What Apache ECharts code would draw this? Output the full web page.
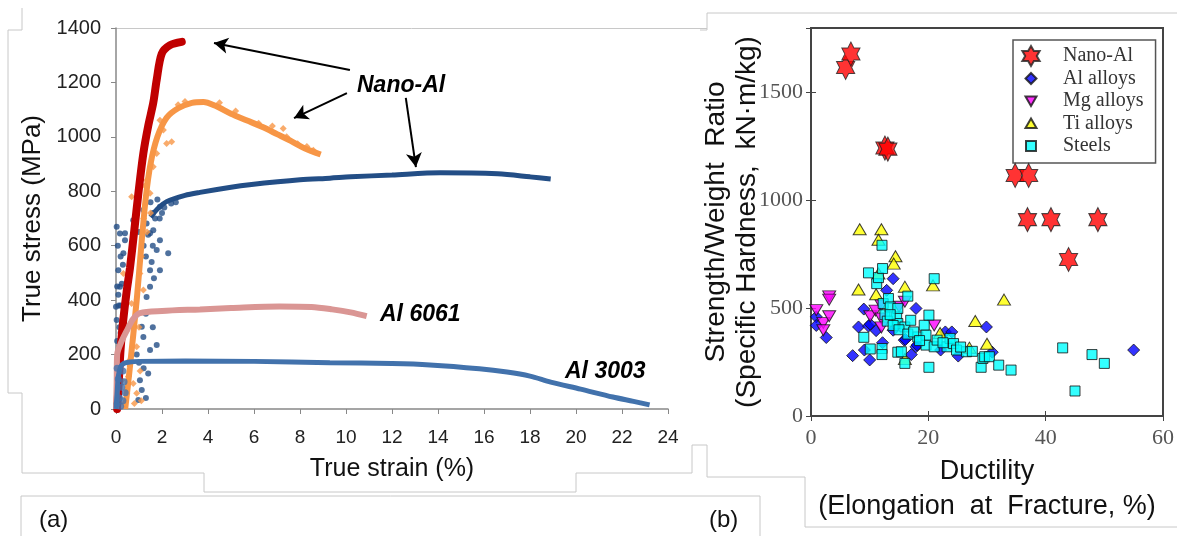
<!DOCTYPE html>
<html><head><meta charset="utf-8">
<script src="https://cdn.jsdelivr.net/npm/echarts@6/dist/echarts.min.js"></script>
<style>html,body{margin:0;padding:0;background:#fff}#c{width:1177px;height:536px}</style>
</head><body><div id="c"></div>
<script>
// ---------- Panel (a): true stress vs true strain ----------
const strainTicks = [0, 24, 2];      // min, max, interval
const stressTicks = [0, 1400, 200];
const nanoRed = [[0.05,0],[0.12,100],[0.2,220],[0.32,330],[0.46,430],[0.61,520],[0.8,660],[0.97,790],[1.19,940],[1.4,1040],[1.62,1125],[1.77,1210],[1.99,1306],[2.35,1337],[2.86,1349]];
const nanoOrange = [[0.4,0],[0.6,150],[0.9,400],[1.1,600],[1.3,780],[1.5,900],[1.8,1000],[2.2,1070],[2.7,1105],[3.3,1125],[3.8,1128],[4.3,1115],[5.0,1085],[5.7,1060],[6.4,1035],[7.0,1010],[7.6,985],[8.2,958],[8.9,935]];
const nanoOrangeScatter = [[0.68,780],[1.48,793],[1.33,841],[1.62,890],[1.77,939],[2.2,976],[2.42,982],[2.06,1025],[1.91,1061],[0.32,498],[1.04,498],[1.19,437],[0.68,388],[0.9,229],[0.54,119],[0.47,58],[0.9,58],[0.25,106],[0.75,94],[1.2,700],[1.35,650],[1.1,560],[1.5,720],[1.25,820],[1.0,300],[0.6,180],[1.1,30],[0.8,20],[0.35,20],[1.05,140],[4.5,1125],[5.2,1095],[6.2,1050],[6.8,1040],[7.27,1031],[7.42,1000],[8.58,951],[3.0,1130],[2.7,1118],[7.9,975],[8.3,965]];
const nanoBlue = [[1.5,705],[1.8,735],[2.2,762],[3.0,785],[3.65,796],[5.0,815],[5.8,824],[8.0,842],[9.3,848],[10.2,853],[12.0,860],[14.1,868],[16.6,864],[18.0,853],[18.9,845]];
const nanoBlueScatter = [[0.03,670],[0.17,645],[0.39,620],[0.32,572],[0.1,510],[0.17,449],[0.0,376],[0.03,327],[1.33,682],[1.62,657],[1.91,620],[1.77,584],[1.48,510],[1.91,510],[2.27,572],[1.48,449],[1.33,412],[1.12,302],[1.19,265],[1.77,235],[1.48,217],[1.04,106],[1.12,70],[0.97,33],[0.75,694],[1.48,646],[1.19,731],[1.91,743],[0.39,646],[0.1,420],[0.2,380],[0.05,250],[0.15,300],[0.25,460],[0.3,530],[0.08,600],[0.2,560],[1.3,560],[1.6,600],[1.4,640],[1.7,700],[1.2,600],[1.0,650],[1.55,540],[1.65,480],[1.3,350],[1.6,300],[1.2,150],[1.4,130],[0.9,200],[1.0,170],[1.3,40],[1.6,720],[1.9,700],[2.1,740],[2.4,755],[1.5,760],[1.8,770],[2.0,720],[2.6,760],[0.05,450],[0.12,380],[0.2,280],[0.1,200],[0.05,120],[0.15,60]];
const al6061 = [[0.0,0],[0.03,100],[0.05,200],[0.25,250],[0.5,293],[0.74,330],[1.04,352],[2.0,360],[3.65,366],[5.0,371],[7.1,377],[8.5,375],[9.4,366],[10.2,355],[10.9,341]];
const al3003 = [[0.0,0],[0.05,60],[0.1,120],[0.2,155],[0.35,168],[0.6,173],[1.0,175],[3.0,176],[6.0,175],[9.3,170],[12.0,167],[13.65,162],[15.8,148],[17.0,136],[18.0,121],[18.9,99],[20.2,73],[21.6,44],[22.5,28],[23.2,15]];
const al3003Scatter = [[0.05,20],[0.15,40],[0.25,80],[0.1,110],[0.3,140],[0.05,150],[0.2,10],[0.3,30],[0.35,100],[0.4,60]];
const arrowsA = [[[10.17,1246],[4.26,1345]],[[10.04,1161],[7.74,1069]],[[12.6,1143],[13.04,889]]];

// ---------- Panel (b): strength/weight ratio vs ductility ----------
const ductTicks = [0, 60, 20];
const ratioTicks = [0, 1800, 500];
const nanoAlPts = [[5.9,1617],[6.8,1679],[12.6,1243],[13.1,1238],[34.8,1116],[37.1,1116],[36.9,911],[40.9,911],[48.9,911],[43.9,726]];
const alAlloys = [[0.9,460],[0.9,420],[2.6,364],[7.1,280],[8.1,413],[9.0,496],[9.1,306],[9.8,417],[10.0,260],[10.1,426],[11.1,396],[12.2,340],[12.9,583],[14.0,637],[14.0,398],[15.9,352],[17.1,285],[17.9,499],[17.9,321],[18.1,329],[16.1,355],[22.1,306],[22.9,390],[24.0,390],[25.1,278],[29.9,413],[30.9,296],[55.0,306]];
const mgAlloys = [[0.9,491],[2.1,432],[2.1,398],[3.1,555],[3.1,540],[3.1,463],[10.1,463],[11.0,489],[12.0,514],[12.0,452],[12.0,411],[15.0,507],[16.0,530],[21.0,420]];
const tiAlloys = [[8.3,866],[12.0,866],[11.5,818],[14.4,741],[14.1,707],[11.5,661],[16.0,600],[8.1,587],[11.1,565],[20.8,606],[28.0,441],[22.0,385],[30.0,335],[27.0,317],[16.0,264],[32.9,540]];
const steels = [[9.0,365],[9.8,664],[10.1,311],[11.2,614],[11.5,642],[12.1,792],[12.2,684],[12.3,522],[12.6,470],[12.1,313],[12.1,285],[13.2,545],[13.5,506],[14.6,460],[14.8,499],[14.8,429],[14.8,296],[15.4,298],[16.0,413],[16.0,244],[16.5,556],[17.0,444],[18.2,367],[19.3,421],[19.6,329],[19.6,375],[20.1,468],[20.1,226],[21.0,637],[21.0,321],[21.5,352],[23.2,321],[23.7,360],[24.3,336],[24.8,306],[26.5,298],[29.0,226],[29.3,267],[29.6,275],[30.4,275],[32.0,236],[34.1,213],[42.9,316],[47.9,285],[50.0,244],[45.0,116],[13.0,440],[14.0,420],[15.0,400],[16.5,380],[17.5,390],[18.5,350],[13.5,470],[22.5,340],[25.5,320],[27.5,300]];
const legendNames = ['Nano-Al','Al alloys','Mg alloys','Ti alloys','Steels'];

const SANS = "'Liberation Sans', Arial, sans-serif";
const SERIF = "'Liberation Serif', 'Times New Roman', serif";
const STAR = 'path://M100,0L128.9,50L186.6,50L157.7,100L186.6,150L128.9,150L100,200L71.1,150L13.4,150L42.3,100L13.4,50L71.1,50Z';
const INV_TRI = 'path://M0,0L10,0L5,9Z';
const UP_TRI = 'path://M5,0L10,9L0,9Z';
const SQ = 'path://M0,0L10,0L10,10L0,10Z';
const DIAM = 'path://M5,0L10,5L5,10L0,5Z';
const plain = v => String(v);

const cDark='#234E86', cOrange='#F79646', cRed='#C00000', cPink='#DA9694', c3003='#4272AC';

const chart = echarts.init(document.getElementById('c'), null, {renderer:'canvas'});
const gray = '#c8c8c8';
function pl(points){return {type:'polyline', shape:{points}, style:{stroke:gray, lineWidth:1, fill:null}, silent:true};}

const option = {
  animation:false,
  backgroundColor:'#fff',
  grid:[
    {left:116, top:28, width:552, height:381, show:false},
    {left:811, top:28, width:360, height:388, show:true, borderColor:'#444', borderWidth:2, backgroundColor:'transparent'}
  ],
  xAxis:[
    {gridIndex:0, type:'value', min:strainTicks[0], max:strainTicks[1], interval:strainTicks[2],
     axisLine:{show:true, onZero:false, lineStyle:{color:'#888', width:1.5}},
     axisTick:{show:true, inside:false, length:5, lineStyle:{color:'#888'}},
     axisLabel:{fontFamily:SANS, fontSize:19, color:'#222', margin:19, formatter:plain},
     splitLine:{show:false},
     name:'True strain (%)', nameLocation:'middle', nameGap:48,
     nameTextStyle:{fontFamily:SANS, fontSize:25, color:'#111'}},
    {gridIndex:1, type:'value', min:ductTicks[0], max:ductTicks[1], interval:ductTicks[2],
     axisLine:{show:false},
     axisTick:{show:true, inside:true, length:5, lineStyle:{color:'#444'}},
     axisLabel:{fontFamily:SERIF, fontSize:22, color:'#555', margin:11, formatter:plain},
     splitLine:{show:false},
     name:'Ductility\n(Elongation  at  Fracture, %)', nameLocation:'middle', nameGap:37,
     nameTextStyle:{fontFamily:SANS, fontSize:27, color:'#111', lineHeight:35, verticalAlign:'top'}},
    {gridIndex:1, type:'value', position:'top', min:ductTicks[0], max:ductTicks[1], interval:ductTicks[2],
     axisLine:{show:false}, axisTick:{show:true, inside:true, length:5, lineStyle:{color:'#444'}},
     axisLabel:{show:false}, splitLine:{show:false}}
  ],
  yAxis:[
    {gridIndex:0, type:'value', min:stressTicks[0], max:stressTicks[1], interval:stressTicks[2],
     axisLine:{show:true, onZero:false, lineStyle:{color:'#888', width:1.5}},
     axisTick:{show:true, inside:false, length:5, lineStyle:{color:'#888'}},
     axisLabel:{fontFamily:SANS, fontSize:20, color:'#222', margin:15, formatter:plain},
     splitLine:{show:false},
     name:'True stress (MPa)', nameLocation:'middle', nameGap:70,
     nameTextStyle:{fontFamily:SANS, fontSize:26, color:'#111'}},
    {gridIndex:1, type:'value', min:ratioTicks[0], max:ratioTicks[1], interval:ratioTicks[2],
     axisLine:{show:false},
     axisTick:{show:true, inside:true, length:5, lineStyle:{color:'#444'}},
     axisLabel:{fontFamily:SERIF, fontSize:22, color:'#555', margin:8, showMaxLabel:false, formatter:plain},
     splitLine:{show:false},
     name:'Strength/Weight  Ratio\n(Specific Hardness,  kN·m/kg)', nameLocation:'middle', nameGap:48, nameMoveOverlap:false,
     nameTextStyle:{fontFamily:SANS, fontSize:28, color:'#111', lineHeight:31}},
    {gridIndex:1, type:'value', position:'right', min:ratioTicks[0], max:ratioTicks[1], interval:ratioTicks[2],
     axisLine:{show:false}, axisTick:{show:true, inside:true, length:5, lineStyle:{color:'#444'}},
     axisLabel:{show:false}, splitLine:{show:false}}
  ],
  legend:{
    orient:'vertical', left:1013, top:40,
    padding:[5,12,6,7], itemGap:0.5, itemWidth:20, itemHeight:20,
    borderColor:'#555', borderWidth:1.5, backgroundColor:'#fff',
    textStyle:{fontFamily:SERIF, fontSize:20, color:'#333', lineHeight:20, padding:[0,0,0,17]},
    data:[
      {name:'Nano-Al', icon:STAR},
      {name:'Al alloys', icon:'path://M0,0M20,20M10,4.5L15.5,10L10,15.5L4.5,10Z'},
      {name:'Mg alloys', icon:'path://M0,0M20,20M4.5,5.5L15.5,5.5L10,15L4.5,5.5Z'},
      {name:'Ti alloys', icon:'path://M0,0M20,20M10,5L15.5,14.5L4.5,14.5Z'},
      {name:'Steels', icon:'path://M0,0M20,20M5,5L15,5L15,15L5,15Z'}
    ]
  },
  graphic:[
    pl([[8,30],[22,30]]), pl([[8,30],[8,393]]), pl([[8,393],[22,393]]),
    pl([[22,8],[22,30]]), pl([[22,393],[22,473],[204,473],[204,492],[576,492],[576,473],[692,473],[692,445],[707,445],[707,477],[805,477],[805,527],[1177,527]]),
    pl([[21,536],[21,496],[760,496],[760,536]]),
    pl([[116,28.5],[707,28.5]]), pl([[700,30],[707,30],[707,13],[1177,13]]),
    {type:'text', left:357, top:74, style:{text:'Nano-Al', font:"italic bold 23px 'Liberation Sans', Arial, sans-serif", fill:'#000'}},
    {type:'text', left:380, top:303, style:{text:'Al 6061', font:"italic bold 23px 'Liberation Sans', Arial, sans-serif", fill:'#000'}},
    {type:'text', left:565, top:360, style:{text:'Al 3003', font:"italic bold 23px 'Liberation Sans', Arial, sans-serif", fill:'#000'}},
    {type:'text', left:39, top:508, style:{text:'(a)', font:"24px 'Liberation Sans', Arial, sans-serif", fill:'#111'}},
    {type:'text', left:709, top:508, style:{text:'(b)', font:"24px 'Liberation Sans', Arial, sans-serif", fill:'#111'}}
  ],
  series:[
    {type:'scatter', xAxisIndex:0, yAxisIndex:0, data:nanoBlueScatter, symbolSize:6, itemStyle:{color:cDark}, z:2, silent:true},
    {type:'line', xAxisIndex:0, yAxisIndex:0, data:nanoBlue, showSymbol:false, smooth:0.3, lineStyle:{color:cDark, width:5}, z:2, silent:true},
    {type:'scatter', xAxisIndex:0, yAxisIndex:0, data:nanoOrangeScatter, symbol:'diamond', symbolSize:7, itemStyle:{color:cOrange}, z:3, silent:true},
    {type:'line', xAxisIndex:0, yAxisIndex:0, data:nanoOrange, showSymbol:false, smooth:0.3, lineStyle:{color:cOrange, width:6}, z:3, silent:true,
     markLine:{silent:true, symbol:['none','arrow'], symbolSize:[12,14], label:{show:false},
       lineStyle:{color:'#000', width:2, type:'solid'},
       data: arrowsA.map(a=>[{coord:a[0]},{coord:a[1]}])}},
    {type:'line', xAxisIndex:0, yAxisIndex:0, data:nanoRed, showSymbol:false, smooth:0.3, lineStyle:{color:cRed, width:8, cap:'round'}, z:4, silent:true},
    {type:'line', xAxisIndex:0, yAxisIndex:0, data:al6061, showSymbol:false, smooth:0.3, lineStyle:{color:cPink, width:6}, z:5, silent:true},
    {type:'line', xAxisIndex:0, yAxisIndex:0, data:al3003, showSymbol:false, smooth:0.3, lineStyle:{color:c3003, width:5}, z:6, silent:true},
    {type:'scatter', xAxisIndex:0, yAxisIndex:0, data:al3003Scatter, symbolSize:7, itemStyle:{color:c3003}, z:6, silent:true},

    {name:'Nano-Al', type:'scatter', xAxisIndex:1, yAxisIndex:1, data:nanoAlPts, symbol:STAR, symbolKeepAspect:true, symbolSize:[21,24],
     itemStyle:{color:'#FF0000', borderColor:'#222', borderWidth:1}, z:10},
    {name:'Al alloys', type:'scatter', xAxisIndex:1, yAxisIndex:1, data:alAlloys, symbol:DIAM, symbolSize:12,
     itemStyle:{color:'#0000FF', borderColor:'#111', borderWidth:1}, z:10},
    {name:'Mg alloys', type:'scatter', xAxisIndex:1, yAxisIndex:1, data:mgAlloys, symbol:INV_TRI, symbolSize:[13,11],
     itemStyle:{color:'#FF00FF', borderColor:'#111', borderWidth:1}, z:10},
    {name:'Ti alloys', type:'scatter', xAxisIndex:1, yAxisIndex:1, data:tiAlloys, symbol:UP_TRI, symbolSize:[13,11],
     itemStyle:{color:'#FFFF00', borderColor:'#111', borderWidth:1}, z:10},
    {name:'Steels', type:'scatter', xAxisIndex:1, yAxisIndex:1, data:steels, symbol:SQ, symbolSize:10,
     itemStyle:{color:'#00FFFF', borderColor:'#111', borderWidth:1}, z:10}
  ]
};
chart.setOption(option);
</script></body></html>
